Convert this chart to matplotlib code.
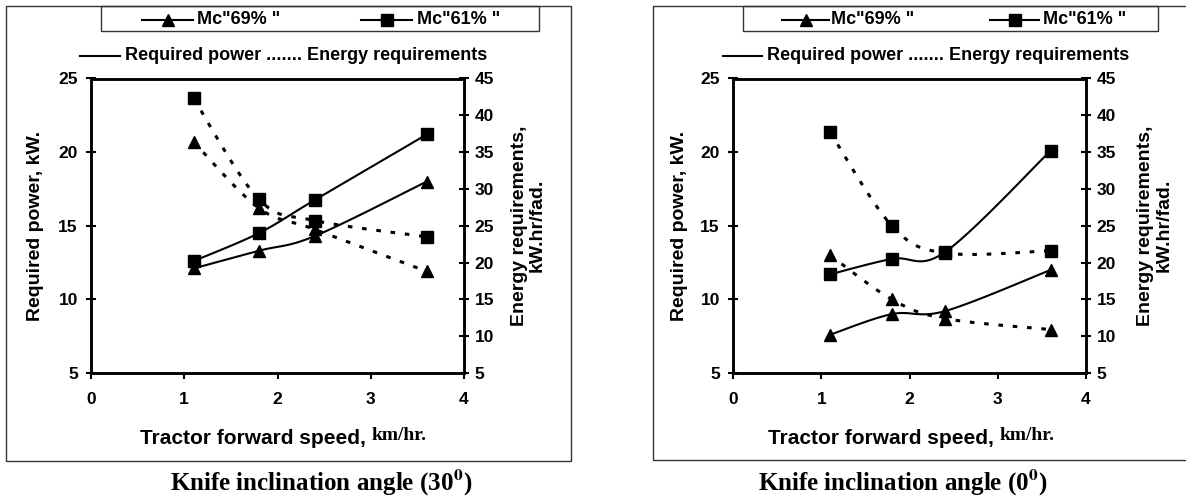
import matplotlib
matplotlib.use('Agg')
import matplotlib.pyplot as plt
import numpy as np
from matplotlib.lines import Line2D
from matplotlib.patches import Rectangle

plt.rcParams['font.family'] = ['Liberation Sans', 'DejaVu Sans']
plt.rcParams['font.weight'] = 'bold'
plt.rcParams['axes.labelweight'] = 'bold'
plt.rcParams['mathtext.fontset'] = 'stix'

speed = [1.1, 1.8, 2.4, 3.6]

# knife inclination angle 30 deg
power69_30 = [12.1, 13.3, 14.3, 18.0]
power61_30 = [12.6, 14.5, 16.75, 21.2]
energy69_30 = [36.4, 27.4, 24.5, 18.8]
energy61_30 = [42.3, 28.6, 25.7, 23.5]

# knife inclination angle 0 deg
power69_0 = [7.6, 9.0, 9.2, 12.0]
power61_0 = [11.7, 12.75, 13.2, 20.1]
energy69_0 = [21.0, 15.0, 12.4, 10.9]
energy61_0 = [37.7, 25.0, 21.3, 21.6]

legend_labels = ['Mc"69% "', 'Mc"61% "']

W, H = 1186, 499
fig = plt.figure(figsize=(W / 100, H / 100), dpi=100)


def fx(px):
    return px / W


def fy(py):
    return 1 - py / H


def smooth(xs, ys, n=24):
    # excel-style smoothed line (bezier through the points)
    xs = np.asarray(xs, float)
    ys = np.asarray(ys, float)
    px = np.concatenate([[xs[0]], xs, [xs[-1]]])
    py = np.concatenate([[ys[0]], ys, [ys[-1]]])
    outx, outy = [], []
    for i in range(1, len(px) - 2):
        t = np.linspace(0, 1, n)
        p0, p1, p2, p3 = (np.array([px[j], py[j]]) for j in range(i - 1, i + 3))
        c1 = p1 + (p2 - p0) / 6
        c2 = p2 - (p3 - p1) / 6
        b = ((1 - t) ** 3)[:, None] * p1 + (3 * (1 - t) ** 2 * t)[:, None] * c1 \
            + (3 * (1 - t) * t ** 2)[:, None] * c2 + (t ** 3)[:, None] * p2
        outx.extend(b[:, 0])
        outy.extend(b[:, 1])
    return outx, outy


def panel(frame, box, axbox, p69, p61, e69, e61, title, title_x, split_x,
          legx, reqx, ylab_l, ylab_r):
    # outer frame
    x0, y0, x1, y1 = frame
    fig.add_artist(Rectangle((fx(x0), fy(y1)), fx(x1 - x0), (y1 - y0) / H,
                             fill=False, ec='#333333', lw=1.0))
    bx0, by0, bx1, by1 = box
    fig.add_artist(Rectangle((fx(bx0), fy(by1)), fx(bx1 - bx0), (by1 - by0) / H,
                             fill=False, ec='#333333', lw=1.0))
    # legend entries
    for (la, lb, tx), mk, lab in zip(legx, ['^', 's'], legend_labels):
        fig.add_artist(Line2D([fx(la), fx(lb)], [fy(20), fy(20)], color='black', lw=1.5,
                              transform=fig.transFigure))
        fig.add_artist(Line2D([fx((la + lb) / 2)], [fy(20)], marker=mk, color='black',
                              ms=8, transform=fig.transFigure))
        fig.text(fx(tx), fy(20), lab, ha='left', va='center', fontsize=13)
    ra, rb, rt = reqx
    fig.add_artist(Line2D([fx(ra), fx(rb)], [fy(56), fy(56)], color='black', lw=1.5,
                          transform=fig.transFigure))
    fig.text(fx(rt), fy(56), 'Required power ....... Energy requirements',
             ha='left', va='center', fontsize=13)

    ax0, ay0, ax1, ay1 = axbox
    ax = fig.add_axes([fx(ax0), fy(ay1), fx(ax1 - ax0), (ay1 - ay0) / H])
    ax2 = ax.twinx()
    ax.set_zorder(ax2.get_zorder() + 1)
    ax.patch.set_visible(False)

    for ys, mk in ((p69, '^'), (p61, 's')):
        sx, sy = smooth(speed, ys)
        ax.plot(sx, sy, color='black', lw=1.5)
        ax.plot(speed, ys, ls='none', marker=mk, color='black', ms=8)
    for ys, mk in ((e69, '^'), (e61, 's')):
        sx, sy = smooth(speed, ys)
        ax2.plot(sx, sy, color='black', lw=2.2, ls=(0, (1.5, 3.2)))
        ax2.plot(speed, ys, ls='none', marker=mk, color='black', ms=8)

    ax.set_xlim(0, 4)
    ax.set_ylim(5, 25)
    ax2.set_ylim(5, 45)
    ax.set_xticks([0, 1, 2, 3, 4])
    ax.set_yticks([5, 10, 15, 20, 25])
    ax2.set_yticks([5, 10, 15, 20, 25, 30, 35, 40, 45])
    for a in (ax, ax2):
        for s in a.spines.values():
            s.set_linewidth(1.8)
    ax.tick_params(axis='x', direction='out', length=4, width=1.5, pad=10, labelsize=12.5)
    ax.tick_params(axis='y', direction='inout', length=7, width=1.5, pad=6, labelsize=12.5)
    ax2.tick_params(axis='y', direction='inout', length=7, width=1.5, pad=4, labelsize=12.5)

    ax.set_ylabel('Required power, kW.', fontsize=14)
    ax.yaxis.set_label_coords(ylab_l, 0.5)
    ax2.set_ylabel('Energy requirements,\nkW.hr/fad.', fontsize=14, linespacing=1.1)
    ax2.yaxis.set_label_coords(ylab_r, 0.5)

    fig.text(fx(split_x), fy(438), 'Tractor forward speed, ', ha='right', va='center',
             fontsize=15)
    fig.text(fx(split_x), fy(436), 'km/hr.', ha='left', va='center', fontsize=14,
             family='Liberation Serif')
    fig.text(fx(title_x), fy(483), title, ha='center', va='center', fontsize=18,
             family='Liberation Serif')


panel((5.7, 6, 571, 461), (101, 6, 539, 31), (91, 78.5, 464, 373),
      power69_30, power61_30, energy69_30, energy61_30,
      r'Knife inclination angle (30$^{\mathbf{0}}$)', 321, 372,
      [(142, 193, 197), (361, 412, 417)], (80, 120, 125), -0.125, 1.125)
panel((653, 6, 1195, 460), (743, 6, 1158, 31), (733, 78.5, 1086, 373),
      power69_0, power61_0, energy69_0, energy61_0,
      r'Knife inclination angle (0$^{\mathbf{0}}$)', 903, 1000,
      [(782, 829, 831), (990, 1039, 1043)], (723, 762, 767), -0.128, 1.145)

fig.savefig('out.png', dpi=100)
